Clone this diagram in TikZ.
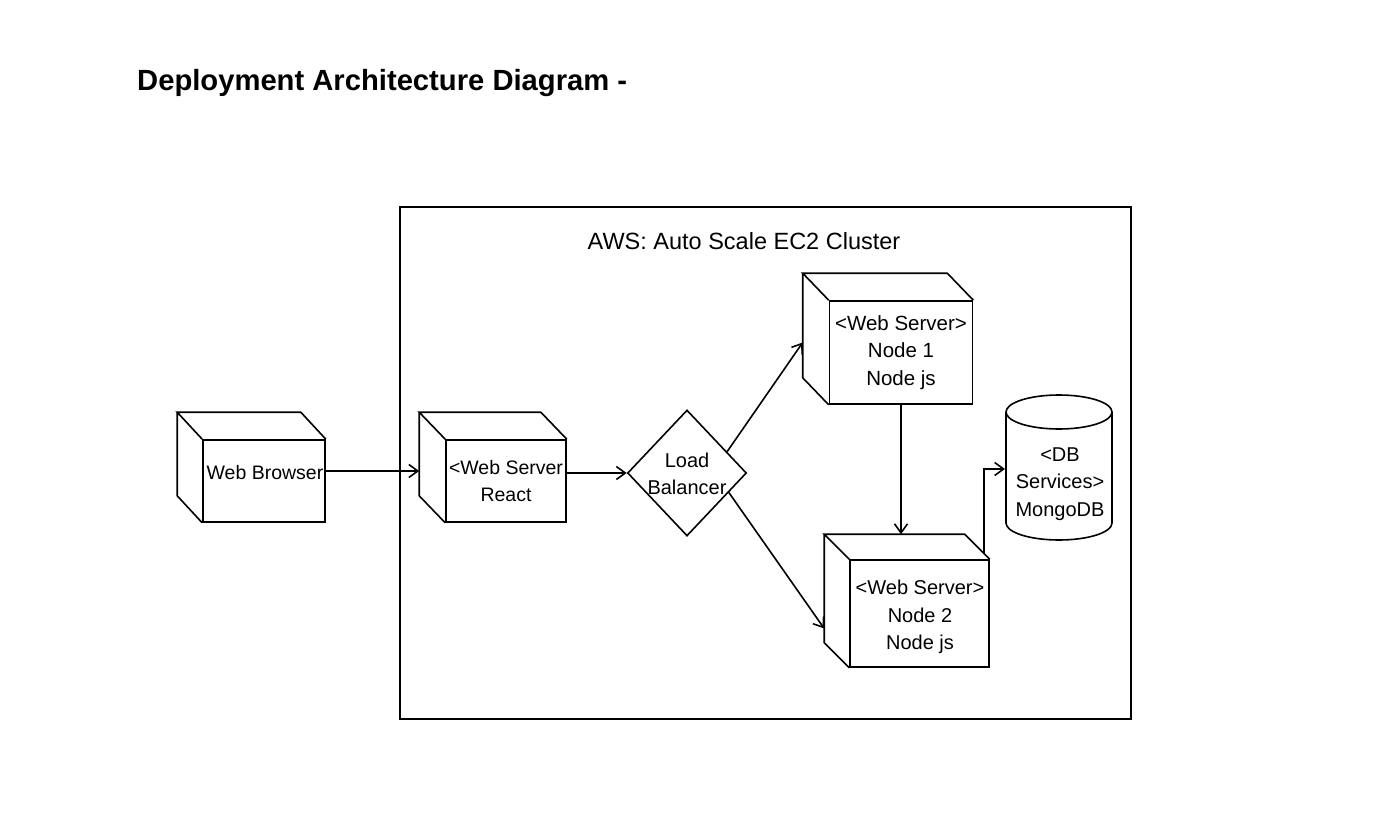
\documentclass[tikz,border=0pt]{standalone}
\usepackage{fontspec}
\setmainfont{Liberation Sans}
\usetikzlibrary{arrows.meta,calc,shapes.geometric}
\newcommand\cubeback[3]{%
  \draw[line, line join=miter] (#1.north west) -- ($(#1.north west)+(-#2,-#3)$) -- ($(#1.north east)+(-#2,-#3)$) -- (#1.north east)
   ($(#1.north west)+(-#2,-#3)$) -- ($(#1.south west)+(-#2,-#3)$) -- (#1.south west);}
\begin{document}
\begin{tikzpicture}[x=1pt,y=-1pt,
 line/.style={line width=1.6pt},
 face/.style={draw, line width=1.6pt, inner sep=0pt},
 txt/.style={align=center, font=\fontsize{19.5}{27}\selectfont, inner sep=0pt},
 bigtxt/.style={align=center, font=\fontsize{20.5}{27.5}\selectfont, inner sep=0pt},
 conn/.style={line width=1.6pt, -{Straight Barb[length=9pt,width=13pt,line width=1.6pt]}}]
\useasboundingbox (0,0) rectangle (1398,816);
\node[anchor=base west, font=\bfseries\fontsize{29.2}{34}\selectfont, inner sep=0pt] (title) at (137,90) {Deployment Architecture Diagram -};
\node[draw, line width=1.6pt, minimum width=731pt, minimum height=512pt, inner sep=0pt] (aws) at (765.5,463) {};
\node[anchor=base, font=\fontsize{23.5}{28}\selectfont, inner sep=0pt] (awsl) at (744,249) {AWS: Auto Scale EC2 Cluster};
% cubes
\node[face, minimum width=122pt, minimum height=82pt] (wb) at (264,481) {};
\cubeback{wb}{25}{27}
\node[txt] (wbt) at (265,473) {Web Browser};
\node[face, txt, minimum width=120pt, minimum height=82pt] (rc) at (506,481) {<Web Server\\React};
\cubeback{rc}{26}{27}
\node[face, bigtxt, minimum width=143pt, minimum height=103pt] (n1) at (901,352.5) {<Web Server>\\Node 1\\Node js};
\cubeback{n1}{26}{27}
\node[face, minimum width=139pt, minimum height=107pt] (n2) at (919.5,613.5) {};
\cubeback{n2}{25}{25}
\node[bigtxt, font=\fontsize{20}{27.5}\selectfont] (n2t) at (920,617) {<Web Server>\\Node 2\\Node js};
% load balancer
\node[diamond, draw, line width=1.6pt, minimum width=119pt, minimum height=126pt, inner sep=0pt] (lb) at (687,473) {};
\node[txt, font=\fontsize{20}{27}\selectfont] (lbt) at (687,474) {Load\\Balancer};
% database
\node[txt, font=\fontsize{20}{27.5}\selectfont] (db) at (1060,484) {<DB\\Services>\\MongoDB};
\draw[line] (1006,412) -- (1006,523) arc[start angle=180,end angle=360,x radius=53pt,y radius=17pt] -- (1112,412);
\draw[line] (1059,412) ellipse[x radius=53pt, y radius=17pt];
% connectors
\coordinate (n2top) at ($(n2.north)+(0,-25)$);
\coordinate (dbin) at (1005,469);
\draw[conn] ($(wb.east)+(0,-10)$) -- ($(rc.west)+(-26,-10)$);
\draw[conn] (rc.east |- lb.west) -- (lb.west);
\draw[conn] (lb.28) -- ($(n1.west)+(-26,-10)$);
\draw[conn] (lb.-25) -- ($(n2.west)+(-25,15)$);
\draw[conn] (n1.south) -- (n1.south |- n2top);
\draw[conn] ($(n2.north east)+(-6,-6)$) |- (dbin);
\end{tikzpicture}
\end{document}
